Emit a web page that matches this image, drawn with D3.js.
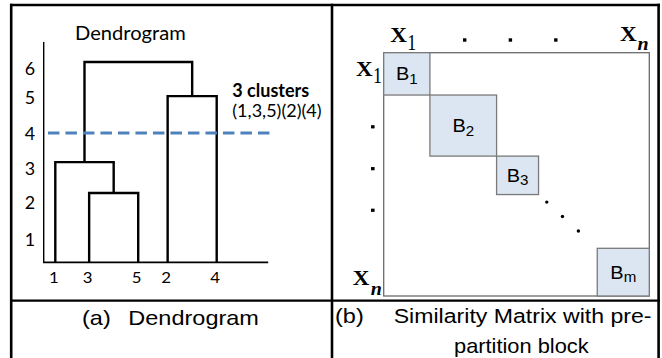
<!DOCTYPE html>
<html>
<head>
<meta charset="utf-8">
<script src="https://cdn.jsdelivr.net/npm/d3@7"></script>
<style>
  html, body { margin: 0; padding: 0; background: #fff; }
  svg { display: block; }
</style>
</head>
<body>
<svg id="fig" width="662" height="358"></svg>
<script>
// ---------- (a) dendrogram data ----------
const leafOrder   = ["1", "3", "5", "2", "4"];
const leafOffsets = [0, 0.69, 1.69, 2.29, 3.29];      // leaf spacing along the x axis
const mergeHeights = { m35: 2.28, m135: 3.18, m24: 5.03, root: 6.23 };
const yTicks      = [1, 2, 3, 4, 5, 6];
const axisFloor   = 0.36;
const axisTop     = 6.93;
const cutHeight   = 4;
const cutExtent   = [-0.15, 4.41];
const dendroTitle = "Dendrogram";
const clusterHead = "3 clusters";
const clusterList = "(1,3,5)(2)(4)";

// ---------- (b) similarity matrix data ----------
const nItems      = 100;
const blockSubs   = ["1", "2", "3", "m"];
const blockStart  = [0, 17.4, 42.5, 80.4];
const blockEnd    = [17.4, 42.5, 58.3, 100];
const diagDots    = [61.4, 67.3, 73.3];
const edgeDots    = [30.5, 47.7, 64.8];

// ---------- captions ----------
const captionA = ["(a)", "Dendrogram"];
const captionB = ["(b)", "Similarity Matrix with pre-", "partition block"];

const SX = 1.1;   // horizontal text stretch of the figure
const svg = d3.select("#fig");
svg.append("rect").attr("width", 662).attr("height", 358).attr("fill", "#fff");

function txt(g, x, y, s, o = {}) {
  return g.append("text")
    .attr("transform", `translate(${x},${y}) scale(${o.sx ?? SX},1)`)
    .attr("text-anchor", o.anchor || "start")
    .attr("font-family", o.family || "Lato, 'Open Sans', sans-serif")
    .attr("font-size", o.size || 16)
    .attr("font-weight", o.weight || "normal")
    .attr("font-style", o.style || "normal")
    .attr("dy", o.dy || 0)
    .attr("fill", o.fill || "#000")
    .text(s);
}

// ================= (a) dendrogram =================
const gA = svg.append("g");
const xs = d3.scaleLinear().domain([0, 3.29]).range([55.3, 216.7]);
const ys = d3.scaleLinear().domain(yTicks).range([239, 202.5, 168.5, 133, 97, 68.5]);

// axes lines
gA.append("line").attr("x1", 43.7).attr("x2", 43.7)
  .attr("y1", ys(axisTop)).attr("y2", ys(axisFloor))
  .attr("stroke", "#000").attr("stroke-width", 1.4);
gA.append("line").attr("x1", xs(-0.25)).attr("x2", xs(4.34))
  .attr("y1", ys(axisFloor)).attr("y2", ys(axisFloor))
  .attr("stroke", "#000").attr("stroke-width", 1.6);

// y tick labels
const yAxis = d3.axisLeft(ys).tickValues(yTicks).tickFormat(d3.format("d")).tickSize(0).tickPadding(0);
const yAxisG = gA.append("g").attr("transform", "translate(30,0)").call(yAxis);
yAxisG.select(".domain").remove();
yAxisG.selectAll("text")
  .attr("text-anchor", "middle")
  .attr("x", 0)
  .attr("dy", "0.36em")
  .attr("font-family", "Lato, sans-serif")
  .attr("font-size", 17)
  .attr("fill", "#000")
  .attr("transform", "scale(1.05,1)");

// tree
const treeData = {
  h: mergeHeights.root, children: [
    { h: mergeHeights.m135, children: [
      { leaf: "1" },
      { h: mergeHeights.m35, children: [{ leaf: "3" }, { leaf: "5" }] }
    ]},
    { h: mergeHeights.m24, children: [{ leaf: "2" }, { leaf: "4" }] }
  ]
};
const root = d3.hierarchy(treeData);
root.eachAfter(n => {
  if (n.data.leaf) {
    n.px = xs(leafOffsets[leafOrder.indexOf(n.data.leaf)]);
    n.py = ys(axisFloor);
  } else {
    n.px = d3.mean(n.children, c => c.px);
    n.py = ys(n.data.h);
  }
});
gA.selectAll("path.link")
  .data(root.descendants().filter(n => n.children))
  .join("path")
  .attr("class", "link")
  .attr("d", n => {
    const [a, b] = n.children;
    return `M${a.px},${a.py}V${n.py}H${b.px}V${b.py}`;
  })
  .attr("fill", "none")
  .attr("stroke", "#000")
  .attr("stroke-width", 2.4)
  .attr("stroke-linejoin", "miter");

// leaf labels
root.leaves().forEach(n => {
  txt(gA, n.px - 1.5, 282.5, n.data.leaf, { anchor: "middle", size: 16, sx: 1.05 });
});

// cut line
gA.append("line")
  .attr("x1", xs(cutExtent[0])).attr("x2", xs(cutExtent[1]))
  .attr("y1", ys(cutHeight)).attr("y2", ys(cutHeight))
  .attr("stroke", "#4f81bd").attr("stroke-width", 3)
  .attr("stroke-dasharray", "11.5,6");

// title and annotation
txt(gA, 75, 39.5, dendroTitle, { size: 19, sx: 1.06 });
txt(gA, 232.3, 97.3, clusterHead, { size: 18, weight: "bold", sx: 1.0 });
txt(gA, 232.3, 117, clusterList, { size: 17.5, sx: 1.03 });

// ================= (b) similarity matrix =================
const gB = svg.append("g");
const mx = d3.scaleLinear().domain([0, nItems]).range([383.7, 649.3]);
const my = d3.scaleLinear().domain([0, nItems]).range([52.7, 296]);

gB.append("rect")
  .attr("x", mx(0)).attr("y", my(0))
  .attr("width", mx(nItems) - mx(0)).attr("height", my(nItems) - my(0))
  .attr("fill", "#fff").attr("stroke", "#6b6b6b").attr("stroke-width", 1.3);

const blocks = blockSubs.map((s, i) => ({ sub: s, s: blockStart[i], e: blockEnd[i] }));
gB.selectAll("rect.block").data(blocks).join("rect")
  .attr("class", "block")
  .attr("x", d => mx(d.s)).attr("y", d => my(d.s))
  .attr("width", d => mx(d.e) - mx(d.s)).attr("height", d => my(d.e) - my(d.s))
  .attr("fill", "#dce6f2").attr("stroke", "#7a7a7a").attr("stroke-width", 1.3);

blocks.forEach(d => {
  const t = txt(gB, (mx(d.s) + mx(d.e)) / 2, (my(d.s) + my(d.e)) / 2 + 6.6, "B",
    { anchor: "middle", size: 18.5, family: "'Liberation Sans', Arial, sans-serif", sx: 1.08 });
  t.append("tspan").attr("font-size", 14).attr("dy", 3.5).text(d.sub);
});

// diagonal ellipsis
gB.selectAll("circle.dd").data(diagDots).join("circle")
  .attr("class", "dd")
  .attr("cx", d => mx(d)).attr("cy", d => my(d)).attr("r", 1.7).attr("fill", "#000");

// edge ellipsis marks
gB.selectAll("rect.top").data(edgeDots).join("rect")
  .attr("class", "top")
  .attr("x", d => mx(d) - 1.7).attr("y", 38.3).attr("width", 3.4).attr("height", 3.4).attr("fill", "#000");
gB.selectAll("rect.left").data(edgeDots).join("rect")
  .attr("class", "left")
  .attr("x", 371).attr("y", d => my(d) - 1.7).attr("width", 3.6).attr("height", 3.2).attr("fill", "#000");

// X labels
const serif = "'Liberation Serif', 'Times New Roman', serif";
function xLabel(x, y, sub, subItalic, subDx, subDy) {
  txt(gB, x, y, "X", { size: 22, weight: "bold", family: serif, sx: 1.05 });
  if (subItalic) {
    txt(gB, x + subDx, y + subDy, sub, { size: 19, weight: "bold", style: "italic", family: serif, sx: 1.05 });
  } else {
    txt(gB, x + subDx, y + subDy, sub, { size: 24, family: serif, sx: 0.75 });
  }
}
xLabel(390.3, 42, "1", false, 17, 8);
xLabel(620, 40.5, "n", true, 17.5, 9.5);
xLabel(356, 75.5, "1", false, 17, 7);
xLabel(352.7, 285, "n", true, 18, 10);

// ================= table frame =================
const frame = svg.append("g").attr("stroke", "#000").attr("fill", "none");
frame.append("line").attr("x1", 11.2).attr("x2", 11.2).attr("y1", 3.8).attr("y2", 360).attr("stroke-width", 2.6);
frame.append("line").attr("x1", 658.6).attr("x2", 658.6).attr("y1", 3.8).attr("y2", 360).attr("stroke-width", 2.6);
frame.append("line").attr("x1", 332).attr("x2", 332).attr("y1", 3.8).attr("y2", 360).attr("stroke-width", 2.6);
frame.append("line").attr("x1", 10).attr("x2", 660).attr("y1", 5).attr("y2", 5).attr("stroke-width", 2.6);
frame.append("line").attr("x1", 10).attr("x2", 660).attr("y1", 300.7).attr("y2", 300.7).attr("stroke-width", 2.2);

// ================= captions =================
const capFont = "'Liberation Sans', Arial, Helvetica, sans-serif";
txt(svg, 82, 324.5, captionA[0], { size: 21, family: capFont, sx: 1.12 });
txt(svg, 128.3, 324.5, captionA[1], { size: 21, family: capFont, sx: 1.12 });
txt(svg, 335, 322.5, captionB[0], { size: 21, family: capFont, sx: 1.12 });
txt(svg, 393.7, 322.5, captionB[1], { size: 21, family: capFont, sx: 1.1 });
txt(svg, 454, 352.5, captionB[2], { size: 21, family: capFont, sx: 1.04 });
</script>
</body>
</html>
